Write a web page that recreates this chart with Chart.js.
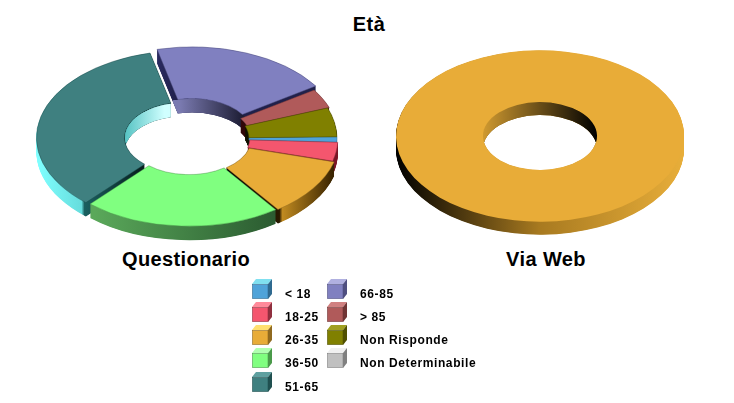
<!DOCTYPE html>
<html lang="it">
<head>
<meta charset="UTF-8">
<title>Età</title>
<script src="https://cdn.jsdelivr.net/npm/chart.js"></script>
<style>
    body { margin: 0; background: #fff; width: 734px; height: 403px; overflow: hidden; position: relative;
           font-family: "Liberation Sans", Arial, sans-serif; font-weight: bold; color: #000; }
    canvas { position: absolute; top: 0; }
    .label { position: absolute; font-size: 20px; line-height: 24px; letter-spacing: 0.4px; text-align: center; transform: translateX(-50%); white-space: nowrap; }
    .key { position: absolute; display: flex; align-items: center; height: 20px; font-size: 12px; letter-spacing: 0.6px; white-space: pre; }
    .key svg { flex: none; margin-right: 12px; }
    .key span { position: relative; top: 4.5px; }
</style>
</head>
<body>
<div class="label" style="left:369px;top:12px">Età</div>
<div class="label" style="left:186px;top:247px">Questionario</div>
<div class="label" style="left:546px;top:247px">Via Web</div>
<div style="position:absolute;left:0;top:0;width:367px;height:403px"><canvas id="left"></canvas></div>
<div style="position:absolute;left:367px;top:0;width:367px;height:403px"><canvas id="right"></canvas></div>
<div id="legend"></div>

<script>
    const categories = ['< 18', '18-25', '26-35', '36-50', '51-65', '66-85', '> 85', 'Non Risponde', 'Non Determinabile'];
    const questionario = [1, 3.5, 10.8, 21.6, 34.6, 19.5, 3.6, 5.4, 0];
    const viaWeb = [0, 0, 100, 0, 0, 0, 0, 0, 0];

    // slice pull-out (chart.js moves a slice by offset / 4)
    const pullOut = [0, 2, 8, 8, 16, 32, 4, 0, 0];

    const faceColors = ['#4fa3d9', '#f4566e', '#e8ac38', '#80ff80', '#3f8080', '#8080c0', '#b05a5a', '#808000', '#c0c0c0'];
    const topColors = ['#80e0f0', '#ff8a9a', '#ffe070', '#b0ffb0', '#5fa0a0', '#b0b0e0', '#d08080', '#a0a020', '#f0f0f0'];
    const sideColors = ['#2f6a90', '#90303f', '#906a20', '#4a9a4a', '#205050', '#4f4f80', '#703535', '#505000', '#808080'];

    // wall colours left to right across the ring: [position, colour]
    const outerWalls = [
        [[0, '#123a52'], [1, '#123a52']],
        [[0, '#7a1525'], [1, '#7a1525']],
        [[0.63, '#000000'], [0.8, '#2a1a00'], [0.81, '#c08a20'], [0.98, '#3a2400']],
        [[0.18, '#5aa85a'], [0.8, '#2a5a30']],
        [[0, '#80ffff'], [0.15, '#66dddd'], [0.16, '#1a6060'], [0.35, '#082020']],
        [[0.38, '#2a2a60'], [0.46, '#20204a']],
        [[0, '#401515'], [1, '#401515']],
        [[0, '#202000'], [1, '#202000']],
        [[0, '#808080'], [1, '#808080']]
    ];
    const innerWalls = [
        [[0, '#102030'], [1, '#102030']],
        [[0, '#401015'], [1, '#401015']],
        [[0, '#402a00'], [1, '#402a00']],
        [[0, '#204020'], [1, '#204020']],
        [[0.29, '#50c0c0'], [0.43, '#d0ffff']],
        [[0.46, '#7a7ab0'], [0.68, '#1a1a30']],
        [[0, '#300808'], [1, '#300808']],
        [[0, '#101000'], [1, '#101000']],
        [[0, '#505050'], [1, '#505050']]
    ];
    const webOuterWall = [[0, '#000000'], [0.5, '#a87a20'], [1, '#e8ae3a']];
    const webInnerWall = [[0.3, '#d09a30'], [0.7, '#000000']];

    function wallGradient(ctx, arc, stops) {
        const g = ctx.createLinearGradient(arc.x - arc.outerRadius, 0, arc.x + arc.outerRadius, 0);
        stops.forEach(s => g.addColorStop(s[0], s[1]));
        return g;
    }

    function drawWith(ctx, arc, color) {
        const saved = arc.options;
        arc.options = Object.assign({}, saved, { backgroundColor: color, borderColor: color, borderWidth: 0 });
        arc.draw(ctx);
        arc.options = saved;
    }

    // the hole of one slice, moved along with its pull-out
    function clipToHole(ctx, arc) {
        const mid = (arc.startAngle + arc.endAngle) / 2;
        const shift = (arc.options.offset || 0) / 4;
        ctx.beginPath();
        ctx.arc(arc.x + Math.cos(mid) * shift, arc.y + Math.sin(mid) * shift, arc.innerRadius, 0, Math.PI * 2);
        ctx.clip();
    }

    // squash the ring to an ellipse and extrude it downwards
    const ring3d = {
        id: 'ring3d',
        beforeDatasetsDraw(chart, args, opts) {
            const arcs = chart.getDatasetMeta(0).data;
            const ctx = chart.ctx;
            const first = arcs[0];
            ctx.save();
            ctx.translate(opts.cx, opts.cy);
            ctx.scale(1, opts.squash);
            ctx.translate(-first.x, -first.y);

            for (let d = opts.depth; d > 0; d -= 0.5) {
                ctx.save();
                ctx.translate(0, d / opts.squash);
                arcs.forEach((arc, i) => drawWith(ctx, arc, wallGradient(ctx, arc, opts.outer[i])));
                ctx.restore();
            }
            // what shows through the hole is the inner wall
            arcs.forEach((arc, i) => {
                ctx.save();
                clipToHole(ctx, arc);
                for (let d = opts.depth; d > 0; d -= 0.5) {
                    ctx.save();
                    ctx.translate(0, d / opts.squash);
                    drawWith(ctx, arc, wallGradient(ctx, arc, opts.inner[i]));
                    ctx.restore();
                }
                ctx.restore();
            });
            arcs.forEach(arc => arc.draw(ctx));
            ctx.restore();
            return false;
        }
    };

    function ringChart(id, values, radius, cutout, offsets, border, ringOpts) {
        return new Chart(document.getElementById(id), {
            type: 'doughnut',
            data: {
                labels: categories,
                datasets: [{
                    data: values,
                    backgroundColor: faceColors,
                    borderColor: sideColors,
                    borderWidth: border,
                    offset: offsets,
                    radius: radius,
                    cutout: cutout
                }]
            },
            options: {
                responsive: true,
                maintainAspectRatio: false,
                animation: false,
                rotation: 89,
                plugins: { legend: { display: false }, tooltip: { enabled: false }, ring3d: ringOpts }
            },
            plugins: [ring3d]
        });
    }

    ringChart('left', questionario, 148, '40.5%', pullOut, 0.6, {
        cx: 189, cy: 138.3, squash: 0.586, depth: 14, outer: outerWalls, inner: innerWalls
    });
    ringChart('right', viaWeb, 144, '39.6%', 0, 0, {
        cx: 173, cy: 136, squash: 0.595, depth: 13,
        outer: categories.map(() => webOuterWall), inner: categories.map(() => webInnerWall)
    });

    // legend, two columns of little cubes
    const legend = document.getElementById('legend');
    const rowsY = [279, 302, 325, 348, 372];
    categories.forEach((name, i) => {
        const col = i < 5 ? 0 : 1;
        const row = i < 5 ? i : i - 5;
        const key = document.createElement('div');
        key.className = 'key';
        key.style.left = (col ? 327 : 252) + 'px';
        key.style.top = rowsY[row] + 'px';
        key.innerHTML =
            '<svg width="21" height="20" viewBox="0 0 21 20">' +
            '<polygon points="0,5 4,0 20,0 16,5" fill="' + topColors[i] + '"/>' +
            '<polygon points="16,5 20,0 20,15 16,20" fill="' + sideColors[i] + '"/>' +
            '<rect x="0.5" y="5.5" width="15.5" height="14" fill="' + faceColors[i] + '" stroke="' + sideColors[i] + '" stroke-width="0.6"/>' +
            '</svg>';
        const text = document.createElement('span');
        text.textContent = name;
        key.appendChild(text);
        legend.appendChild(key);
    });
</script>
</body>
</html>
